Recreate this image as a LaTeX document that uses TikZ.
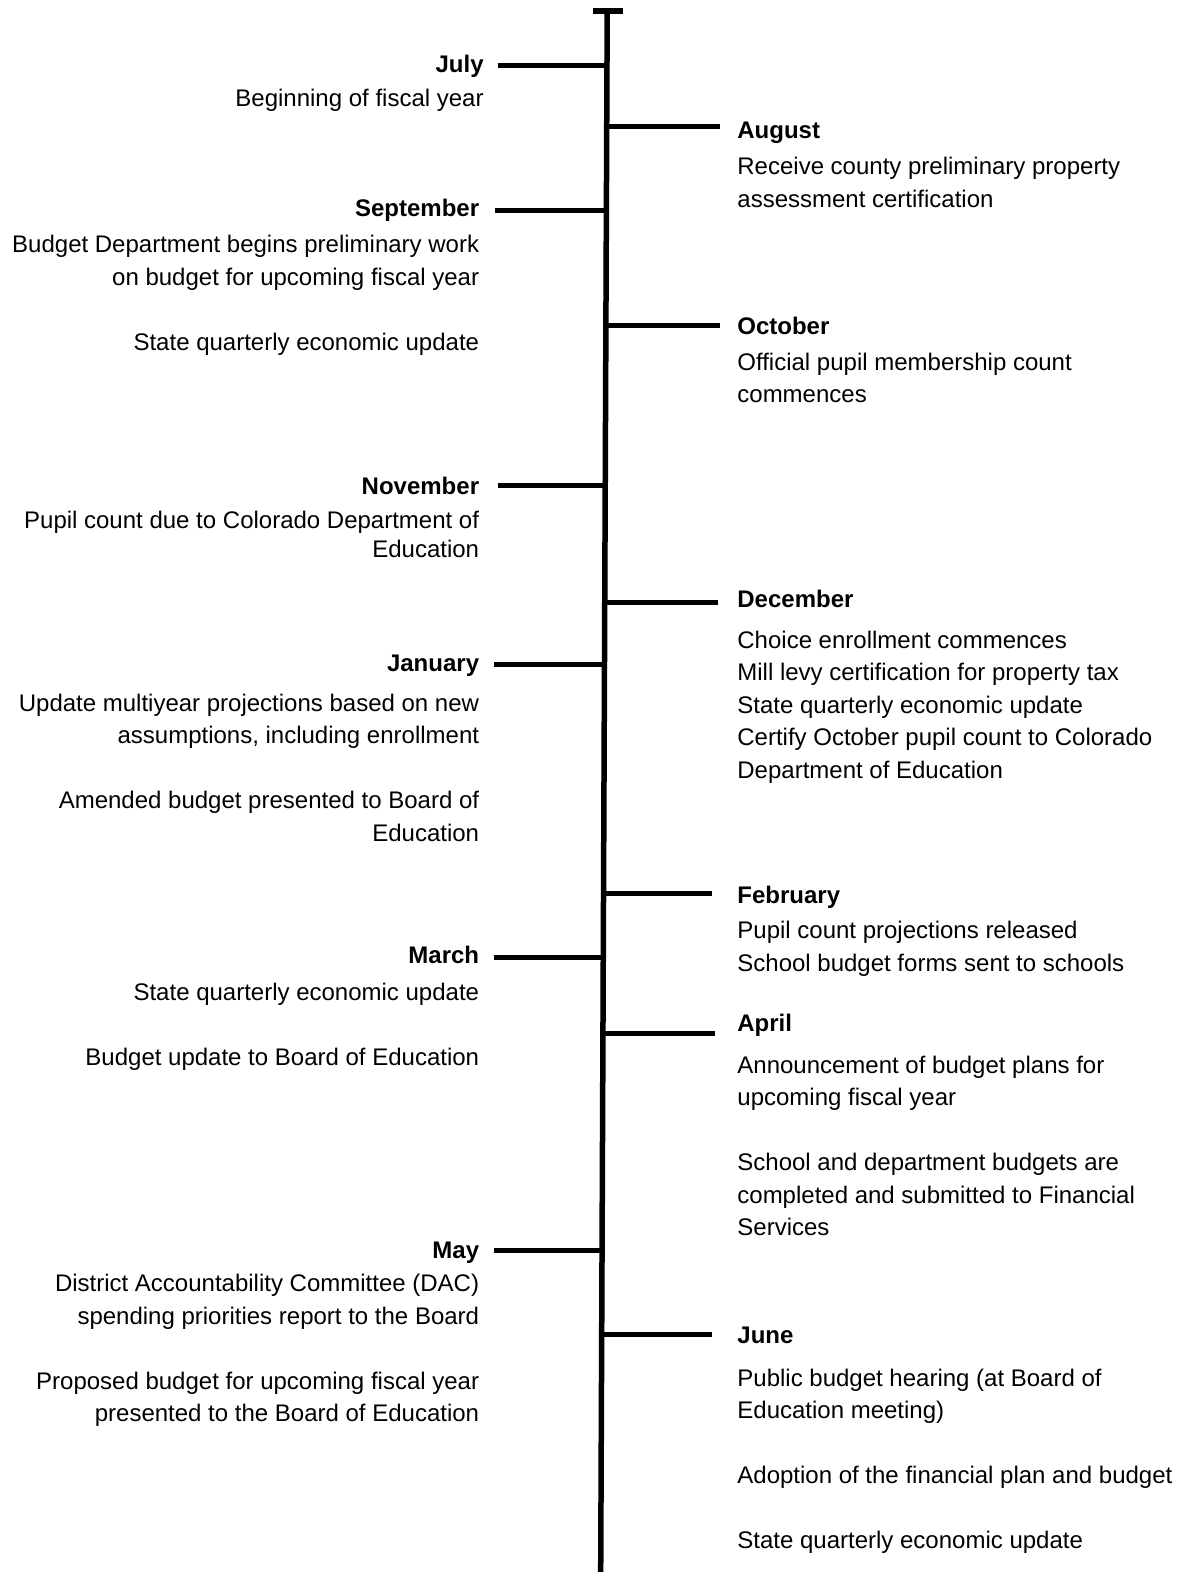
\documentclass[tikz,border=0pt]{standalone}
\usepackage{fontspec}
\setmainfont{Liberation Sans}

\tikzset{
  monthlabel/.style={font=\fontsize{12}{16.25}\selectfont\bfseries, inner sep=0pt, yshift=-0.75pt},
  lbody/.style={font=\fontsize{12}{16.25}\selectfont, inner sep=0pt, align=right, anchor=north east, yshift=-0.75pt},
  rbody/.style={font=\fontsize{12}{16.25}\selectfont, inner sep=0pt, align=left, anchor=north west, yshift=-0.75pt},
  spine/.style={line width=2.75pt},
  monthbar/.style={line width=2.5pt},
}

\begin{document}
\begin{tikzpicture}[x=0.5pt,y=-0.5pt]
    \useasboundingbox (0,0) rectangle (1180,1572);

    % timeline
    \coordinate (capL) at (593,11);
    \coordinate (capR) at (623,11);
    \coordinate (top) at (607.2,11);
    \coordinate (bot) at (600.7,1572);
    \draw[spine] (capL) -- (capR);
    \draw[spine] (top) -- (bot);

    % points on the timeline
    \coordinate (julS) at (607.0,65.3);
    \coordinate (augS) at (606.7,126.3);
    \coordinate (sepS) at (606.4,210.8);
    \coordinate (octS) at (605.9,325.8);
    \coordinate (novS) at (605.2,485.3);
    \coordinate (decS) at (604.7,602.6);
    \coordinate (janS) at (604.5,664.7);
    \coordinate (febS) at (603.5,893);
    \coordinate (marS) at (603.3,957);
    \coordinate (aprS) at (602.9,1033.5);
    \coordinate (mayS) at (602.0,1250);
    \coordinate (junS) at (601.7,1334.5);

    % bar ends
    \coordinate (julE) at (498,65.3);
    \coordinate (augE) at (720,126.3);
    \coordinate (sepE) at (495,210.8);
    \coordinate (octE) at (720,325.8);
    \coordinate (novE) at (498,485.3);
    \coordinate (decE) at (718,602.6);
    \coordinate (janE) at (494,664.7);
    \coordinate (febE) at (712,893);
    \coordinate (marE) at (494,957);
    \coordinate (aprE) at (715,1033.5);
    \coordinate (mayE) at (494,1250);
    \coordinate (junE) at (712,1334.5);

    \draw[monthbar] (julS) -- (julE) (augS) -- (augE) (sepS) -- (sepE) (octS) -- (octE)
                    (novS) -- (novE) (decS) -- (decE) (janS) -- (janE) (febS) -- (febE)
                    (marS) -- (marE) (aprS) -- (aprE) (mayS) -- (mayE) (junS) -- (junE);

    % left side
    \node[monthlabel, anchor=base east] (jul) at (484,71) {July};
    \node[lbody] (julB) at (484,87.1) {Beginning of fiscal year};

    \node[monthlabel, anchor=base east] (sep) at (479.5,215) {September};
    \node[lbody] (sepB) at (479.5,233.7) {Budget Department begins preliminary work\\
        on budget for upcoming fiscal year\\[16.25pt]
        State quarterly economic update};

    \node[monthlabel, anchor=base east] (nov) at (479.5,492.8) {November};
    \node[lbody] (novB) at (479.5,509.4) {Pupil count due to Colorado Department of\\[-2pt]
        Education};

    \node[monthlabel, anchor=base east] (jan) at (479.5,670.2) {January};
    \node[lbody] (janB) at (479.5,691.9) {Update multiyear projections based on new\\
        assumptions, including enrollment\\[16.25pt]
        Amended budget presented to Board of\\
        Education};

    \node[monthlabel, anchor=base east] (mar) at (479.5,962) {March};
    \node[lbody] (marB) at (479.5,980.7) {State quarterly economic update\\[16.25pt]
        Budget update to Board of Education};

    \node[monthlabel, anchor=base east] (may) at (479.5,1256.7) {May};
    \node[lbody] (mayB) at (479.5,1272.4) {District Accountability Committee (DAC)\\
        spending priorities report to the Board\\[16.25pt]
        Proposed budget for upcoming fiscal year\\
        presented to the Board of Education};

    % right side
    \node[monthlabel, anchor=base west] (aug) at (737,136.8) {August};
    \node[rbody] (augB) at (737,155.5) {Receive county preliminary property\\
        assessment certification};

    \node[monthlabel, anchor=base west] (oct) at (737,333.3) {October};
    \node[rbody] (octB) at (737,351.1) {Official pupil membership count\\
        commences};

    \node[monthlabel, anchor=base west] (dec) at (737,606.1) {December};
    \node[rbody] (decB) at (737,628.8) {Choice enrollment commences\\
        Mill levy certification for property tax\\
        State quarterly economic update\\
        Certify October pupil count to Colorado\\
        Department of Education};

    \node[monthlabel, anchor=base west] (feb) at (737,901.8) {February};
    \node[rbody] (febB) at (737,919.5) {Pupil count projections released\\
        School budget forms sent to schools};

    \node[monthlabel, anchor=base west] (apr) at (737,1030.2) {April};
    \node[rbody] (aprB) at (737,1053.9) {Announcement of budget plans for\\
        upcoming fiscal year\\[16.25pt]
        School and department budgets are\\
        completed and submitted to Financial\\
        Services};

    \node[monthlabel, anchor=base west] (jun) at (737,1342) {June};
    \node[rbody] (junB) at (737,1366.7) {Public budget hearing (at Board of\\
        Education meeting)\\[16.25pt]
        Adoption of the financial plan and budget\\[16.25pt]
        State quarterly economic update};
\end{tikzpicture}
\end{document}
